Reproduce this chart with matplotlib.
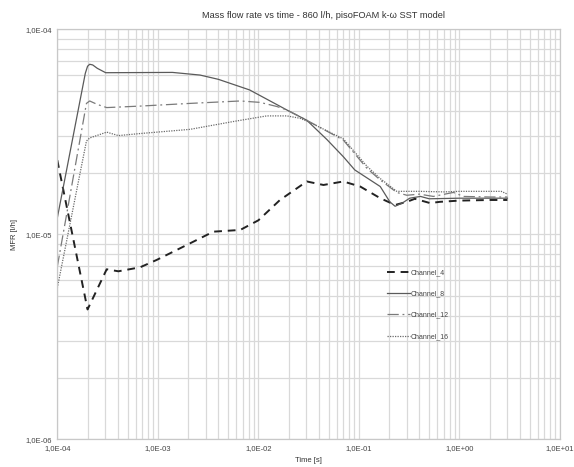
import matplotlib
matplotlib.use('Agg')
import matplotlib.pyplot as plt
from matplotlib.ticker import LogLocator, FuncFormatter, NullFormatter

plt.rcParams['font.family'] = ['Liberation Sans', 'DejaVu Sans']

# time [s] and mass flow rate [l/h] per channel
t4 = [1e-4, 2e-4, 3.1e-4, 4.05e-4, 6.65e-4, 9.75e-4, 1.94e-3, 3.57e-3, 6.6e-3, 1.0e-2,
      1.64e-2, 3.03e-2, 4.44e-2, 7.0e-2, 1.03e-1, 1.63e-1, 2.29e-1, 3.0e-1, 3.6e-1,
      5.1e-1, 6.4e-1, 1.0, 2.0, 3.0]
q4 = [2.3e-5, 4.3e-6, 6.75e-6, 6.6e-6, 6.9e-6, 7.5e-6, 8.87e-6, 1.03e-5, 1.05e-5, 1.17e-5,
      1.47e-5, 1.81e-5, 1.74e-5, 1.81e-5, 1.71e-5, 1.5e-5, 1.39e-5, 1.44e-5, 1.49e-5,
      1.42e-5, 1.44e-5, 1.46e-5, 1.47e-5, 1.47e-5]

t8 = [1e-4, 1.9e-4, 2.0e-4, 2.1e-4, 2.25e-4, 2.5e-4, 3.03e-4, 1.4e-3, 2.63e-3, 4.0e-3,
      8.18e-3, 1.92e-2, 3.03e-2, 4.8e-2, 7.0e-2, 0.091, 0.163, 0.203, 0.229, 0.27, 0.32,
      0.41, 0.5, 1.0, 3.0]
q8 = [1.2e-5, 6.1e-5, 6.6e-5, 6.75e-5, 6.7e-5, 6.45e-5, 6.14e-5, 6.16e-5, 5.98e-5, 5.7e-5,
      5.06e-5, 4.04e-5, 3.6e-5, 2.9e-5, 2.39e-5, 2.06e-5, 1.71e-5, 1.44e-5, 1.37e-5, 1.42e-5,
      1.5e-5, 1.53e-5, 1.49e-5, 1.5e-5, 1.5e-5]

t12 = [1e-4, 1.95e-4, 2.1e-4, 2.5e-4, 3.1e-4, 6.65e-4, 2.09e-3, 6.6e-3, 1.04e-2, 1.53e-2,
       1.92e-2, 3.03e-2, 7.0e-2, 0.12, 0.163, 0.238, 0.3, 0.4, 0.55, 0.87, 1.1, 2.0, 3.0]
q12 = [6.95e-6, 4.35e-5, 4.47e-5, 4.3e-5, 4.15e-5, 4.22e-5, 4.35e-5, 4.47e-5, 4.4e-5, 4.2e-5,
       4.04e-5, 3.6e-5, 2.88e-5, 2.1e-5, 1.84e-5, 1.6e-5, 1.55e-5, 1.57e-5, 1.53e-5, 1.6e-5,
       1.53e-5, 1.52e-5, 1.52e-5]

t16 = [1e-4, 1.95e-4, 2.1e-4, 3.1e-4, 4.05e-4, 6.65e-4, 2.09e-3, 5.66e-3, 1.21e-2, 1.92e-2,
       2.6e-2, 3.3e-2, 7.0e-2, 0.12, 0.163, 0.238, 0.4, 0.7, 1.0, 2.0, 2.6, 3.0]
q16 = [5.47e-6, 2.85e-5, 2.95e-5, 3.15e-5, 3.03e-5, 3.1e-5, 3.25e-5, 3.55e-5, 3.78e-5, 3.78e-5,
       3.68e-5, 3.5e-5, 2.92e-5, 2.15e-5, 1.87e-5, 1.62e-5, 1.62e-5, 1.61e-5, 1.62e-5, 1.62e-5,
       1.62e-5, 1.57e-5]

fig = plt.figure(figsize=(5.74, 4.67), dpi=100)
ax = fig.add_axes([0.0998, 0.0593, 0.8758, 0.878])

ax.plot(t4, q4, color='#222222', lw=1.4, dashes=(4, 3), label='Channel_4')
ax.plot(t8, q8, color='#5a5a5a', lw=0.9, label='Channel_8')
ax.plot(t12, q12, color='#7a7a7a', lw=0.9, dashes=(9, 3, 1.5, 3), label='Channel_12')
ax.plot(t16, q16, color='#6a6a6a', lw=0.9, dashes=(1, 1), label='Channel_16')

ax.set_xscale('log')
ax.set_yscale('log')
ax.set_xlim(1e-4, 1e1)
ax.set_ylim(1e-6, 1e-4)

def sci_comma(v, pos):
    return ('%.1E' % v).replace('.', ',')

for axis in (ax.xaxis, ax.yaxis):
    axis.set_major_locator(LogLocator(base=10, numticks=10))
    axis.set_minor_locator(LogLocator(base=10, subs=range(2, 10), numticks=20))
    axis.set_major_formatter(FuncFormatter(sci_comma))
    axis.set_minor_formatter(NullFormatter())

ax.grid(True, which='both', color='#d9d9d9', lw=0.9)
ax.set_axisbelow(True)
ax.tick_params(which='both', length=0, labelsize=5.5, colors='#444444', pad=4)
for s in ax.spines.values():
    s.set_color('#c8c8c8')
    s.set_linewidth(0.9)

ax.set_title('Mass flow rate vs time - 860 l/h, pisoFOAM k-ω SST model',
             fontsize=6.7, color='#333333', pad=8, x=0.53)
ax.set_xlabel('Time [s]', fontsize=5.5, color='#333333', labelpad=4)
ax.set_ylabel('MFR [l/h]', fontsize=5.5, color='#333333', labelpad=5)

ax.legend(loc='upper left', bbox_to_anchor=(0.643, 0.43), frameon=False,
          fontsize=5, handlelength=3.3, handletextpad=0.2, labelspacing=2.05,
          labelcolor='#444444')

fig.savefig('out.png', dpi=100)
